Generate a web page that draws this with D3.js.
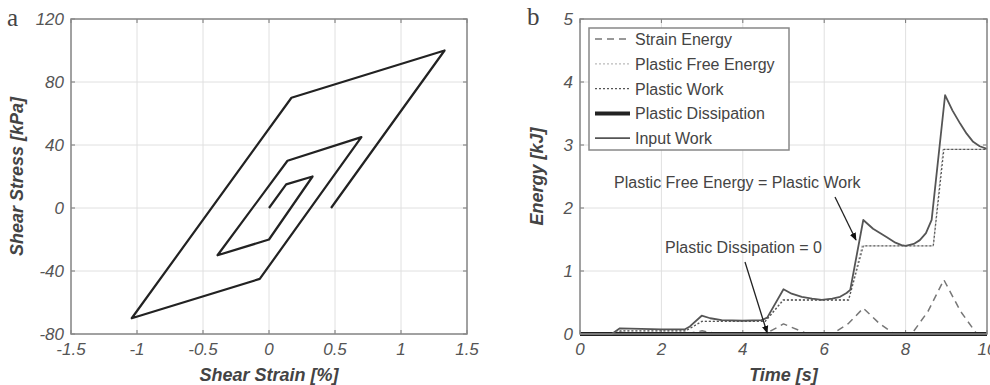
<!DOCTYPE html>
<html>
<head>
<meta charset="utf-8">
<script src="https://cdn.jsdelivr.net/npm/d3@7"></script>
<style>
  body { margin: 0; background: #fff; }
  svg { display: block; font-family: "Liberation Sans", Arial, sans-serif; }
</style>
</head>
<body>
<div id="chart"></div>
<script>
// panel a: shear loop
const strain = [0, 0.13, 0.33, 0, -0.39, 0.14, 0.70, -0.07, -1.04, 0.17, 1.33, 0.47];
const stress = [0, 15, 20, -20, -30, 30, 45, -45, -70, 70, 100, 0];
const strainTicks = [-1.5, -1, -0.5, 0, 0.5, 1, 1.5];
const stressTicks = [-80, -40, 0, 40, 80, 120];

// panel b: energies [time, kJ]
const strainEnergy = [[0,0],[0.8,0],[1.0,0.03],[1.3,0],[2.6,0],[3.0,0.05],[3.4,0],[4.55,0],[5.0,0.16],[5.6,0],
  [6.2,0],[6.6,0.17],[6.96,0.41],[7.35,0.17],[7.72,0],[8.15,0],[8.55,0.36],[8.94,0.86],[9.35,0.36],[9.75,0],[10,0]];
const plasticWork = [[0,0],[0.8,0],[1.0,0.05],[2.6,0.05],[3.0,0.2],[4.55,0.2],[5.0,0.54],[6.6,0.54],
  [6.96,1.40],[8.68,1.40],[8.94,2.93],[10,2.93]];
const plasticFreeEnergy = [[0,0],[0.8,0],[1.0,0.05],[2.6,0.05],[2.98,0.2],[4.55,0.2],[4.98,0.54],[6.6,0.54],
  [6.93,1.40],[8.68,1.40],[8.92,2.93],[10,2.93]];
const plasticDissipation = [[0,0],[10,0]];
const inputWork = [[0,0],[0.78,0],[0.98,0.09],[1.5,0.08],[2.0,0.075],[2.58,0.075],[2.7,0.12],[2.99,0.29],
  [3.2,0.25],[3.48,0.22],[4.0,0.21],[4.46,0.22],[4.6,0.26],[5.0,0.71],[5.2,0.64],[5.45,0.59],[5.7,0.56],
  [5.94,0.54],[6.2,0.56],[6.39,0.59],[6.55,0.65],[6.64,0.70],[6.96,1.81],[7.2,1.67],[7.53,1.54],[7.75,1.45],
  [7.9,1.41],[8.0,1.40],[8.2,1.43],[8.35,1.49],[8.5,1.6],[8.64,1.81],[8.97,3.79],[9.15,3.55],[9.34,3.34],
  [9.5,3.18],[9.66,3.05],[9.82,2.98],[10,2.94]];
const timeTicks = [0, 2, 4, 6, 8, 10];
const energyTicks = [0, 1, 2, 3, 4, 5];

const svg = d3.select('#chart').append('svg')
  .attr('width', 990)
  .attr('height', 385);

const defs = svg.append('defs');
defs.append('marker')
  .attr('id', 'arrow')
  .attr('viewBox', '0 0 10 10')
  .attr('refX', 9).attr('refY', 5)
  .attr('markerWidth', 8).attr('markerHeight', 8)
  .attr('markerUnits', 'userSpaceOnUse')
  .attr('orient', 'auto')
  .append('path')
  .attr('d', 'M0,1 L10,5 L0,9 Z')
  .attr('fill', '#111');

function drawFrame(x, y, xTicks, yTicks, xLabel, yLabel, yLabelX) {
  const [x0, x1] = x.range();
  const [y0, y1] = y.range();
  const g = svg.append('g');

  // grid
  g.selectAll('.gx').data(xTicks).enter().append('line')
    .attr('x1', d => x(d)).attr('x2', d => x(d))
    .attr('y1', y0).attr('y2', y1)
    .attr('stroke', '#e0e0e0').attr('stroke-width', 1);
  g.selectAll('.gy').data(yTicks).enter().append('line')
    .attr('x1', x0).attr('x2', x1)
    .attr('y1', d => y(d)).attr('y2', d => y(d))
    .attr('stroke', '#e0e0e0').attr('stroke-width', 1);

  // ticks inward, all four sides
  g.selectAll('.tb').data(xTicks).enter().append('line')
    .attr('x1', d => x(d)).attr('x2', d => x(d))
    .attr('y1', y0).attr('y2', y0 - 4)
    .attr('stroke', '#777');
  g.selectAll('.tt').data(xTicks).enter().append('line')
    .attr('x1', d => x(d)).attr('x2', d => x(d))
    .attr('y1', y1).attr('y2', y1 + 4)
    .attr('stroke', '#777');
  g.selectAll('.tl').data(yTicks).enter().append('line')
    .attr('x1', x0).attr('x2', x0 + 4)
    .attr('y1', d => y(d)).attr('y2', d => y(d))
    .attr('stroke', '#777');
  g.selectAll('.tr').data(yTicks).enter().append('line')
    .attr('x1', x1).attr('x2', x1 - 4)
    .attr('y1', d => y(d)).attr('y2', d => y(d))
    .attr('stroke', '#777');

  // tick labels
  g.selectAll('.lx').data(xTicks).enter().append('text')
    .attr('x', d => x(d)).attr('y', y0 + 21)
    .attr('text-anchor', 'middle')
    .attr('font-size', 17).attr('font-style', 'italic').attr('fill', '#555')
    .text(d => d);
  g.selectAll('.ly').data(yTicks).enter().append('text')
    .attr('x', x0 - 7).attr('y', d => y(d) + 6)
    .attr('text-anchor', 'end')
    .attr('font-size', 17).attr('font-style', 'italic').attr('fill', '#555')
    .text(d => d);

  // axis labels
  g.append('text')
    .attr('x', (x0 + x1) / 2).attr('y', 381)
    .attr('text-anchor', 'middle')
    .attr('font-size', 18).attr('font-style', 'italic').attr('font-weight', 'bold').attr('fill', '#444')
    .text(xLabel);
  g.append('text')
    .attr('transform', `translate(${yLabelX},${(y0 + y1) / 2}) rotate(-90)`)
    .attr('text-anchor', 'middle')
    .attr('font-size', 18).attr('font-style', 'italic').attr('font-weight', 'bold').attr('fill', '#444')
    .text(yLabel);
  return g;
}

function drawBorder(x, y) {
  const [x0, x1] = x.range();
  const [y0, y1] = y.range();
  svg.append('rect')
    .attr('x', x0).attr('y', y1)
    .attr('width', x1 - x0).attr('height', y0 - y1)
    .attr('fill', 'none').attr('stroke', '#888').attr('stroke-width', 1.5);
}

// ---------- panel a ----------
const xa = d3.scaleLinear().domain([-1.5, 1.5]).range([71, 467]);
const ya = d3.scaleLinear().domain([-80, 120]).range([334, 19]);
drawFrame(xa, ya, strainTicks, stressTicks, 'Shear Strain [%]', 'Shear Stress [kPa]', 23);

const loop = d3.line().x(d => xa(d[0])).y(d => ya(d[1]));
svg.append('path')
  .attr('d', loop(strain.map((s, i) => [s, stress[i]])))
  .attr('fill', 'none').attr('stroke', '#222').attr('stroke-width', 2.2)
  .attr('stroke-linejoin', 'round');
drawBorder(xa, ya);

svg.append('text').attr('x', 7).attr('y', 26)
  .attr('font-family', '"Liberation Serif", "DejaVu Serif", serif')
  .attr('font-size', 25).attr('fill', '#444').text('a');

// ---------- panel b ----------
const xb = d3.scaleLinear().domain([0, 10]).range([580, 987]);
const yb = d3.scaleLinear().domain([0, 5]).range([334, 19]);
drawFrame(xb, yb, timeTicks, energyTicks, 'Time [s]', 'Energy [kJ]', 543);

const eLine = d3.line().x(d => xb(d[0])).y(d => yb(d[1]));

const series = [
  { name: 'Strain Energy', data: strainEnergy, stroke: '#777', width: 1.5, dash: '7,5' },
  { name: 'Plastic Free Energy', data: plasticFreeEnergy, stroke: '#bbb', width: 1.3, dash: '2,2' },
  { name: 'Plastic Work', data: plasticWork, stroke: '#555', width: 1.3, dash: '2,2' },
  { name: 'Plastic Dissipation', data: plasticDissipation, stroke: '#222', width: 4, dash: null },
  { name: 'Input Work', data: inputWork, stroke: '#555', width: 1.8, dash: null }
];

svg.append('g').selectAll('path').data(series).enter().append('path')
  .attr('d', d => eLine(d.data))
  .attr('fill', 'none')
  .attr('stroke', d => d.stroke)
  .attr('stroke-width', d => d.width)
  .attr('stroke-dasharray', d => d.dash)
  .attr('stroke-linejoin', 'round');

drawBorder(xb, yb);

// legend
const leg = svg.append('g');
leg.append('rect')
  .attr('x', 589).attr('y', 28).attr('width', 200).attr('height', 122)
  .attr('fill', '#fff').attr('stroke', '#888').attr('stroke-width', 1.5);
const items = leg.selectAll('.item').data(series).enter().append('g')
  .attr('transform', (d, i) => `translate(0,${39 + i * 24.8})`);
items.append('line')
  .attr('x1', 595).attr('x2', 630).attr('y1', 0).attr('y2', 0)
  .attr('stroke', d => d.stroke)
  .attr('stroke-width', d => d.width)
  .attr('stroke-dasharray', d => d.dash);
items.append('text')
  .attr('x', 635).attr('y', 6)
  .attr('font-size', 16).attr('fill', '#444')
  .text(d => d.name);

// annotations
svg.append('text').attr('x', 614).attr('y', 188)
  .attr('font-size', 16).attr('fill', '#444')
  .text('Plastic Free Energy = Plastic Work');
svg.append('line')
  .attr('x1', 835).attr('y1', 197).attr('x2', 856).attr('y2', 240)
  .attr('stroke', '#222').attr('stroke-width', 1.3)
  .attr('marker-end', 'url(#arrow)');

svg.append('text').attr('x', 665).attr('y', 253)
  .attr('font-size', 16).attr('fill', '#444')
  .text('Plastic Dissipation = 0');
svg.append('line')
  .attr('x1', 745).attr('y1', 262).attr('x2', xb(4.6)).attr('y2', yb(0) - 1)
  .attr('stroke', '#222').attr('stroke-width', 1.3)
  .attr('marker-end', 'url(#arrow)');

svg.append('text').attr('x', 527).attr('y', 25)
  .attr('font-family', '"Liberation Serif", "DejaVu Serif", serif')
  .attr('font-size', 25).attr('fill', '#444').text('b');
</script>
</body>
</html>
